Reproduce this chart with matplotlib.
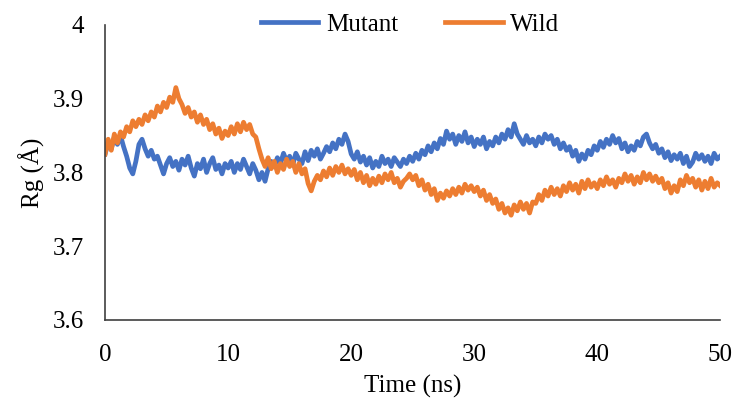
import numpy as np
import matplotlib.pyplot as plt

plt.rcParams['font.family'] = ['Liberation Serif', 'DejaVu Serif']

# --- Dados (passo de 0.25 ns) ---
tempo = np.arange(0, 50.01, 0.25)

mutant = [
    3.825, 3.840, 3.832, 3.848, 3.838, 3.850, 3.835, 3.822, 3.806, 3.798, 3.815, 3.838, 3.845, 3.832, 3.822, 3.830, 3.818, 3.822, 3.810, 3.798,
    3.812, 3.820, 3.808, 3.815, 3.803, 3.818, 3.810, 3.822, 3.806, 3.795, 3.812, 3.805, 3.818, 3.800, 3.812, 3.820, 3.804, 3.810, 3.798, 3.812,
    3.806, 3.815, 3.800, 3.812, 3.804, 3.818, 3.808, 3.798, 3.812, 3.803, 3.790, 3.800, 3.788, 3.805, 3.815, 3.808, 3.820, 3.812, 3.826, 3.815,
    3.822, 3.810, 3.826, 3.818, 3.812, 3.828, 3.816, 3.830, 3.822, 3.832, 3.818, 3.826, 3.835, 3.828, 3.840, 3.832, 3.845, 3.838, 3.852, 3.842,
    3.825, 3.818, 3.828, 3.814, 3.822, 3.810, 3.820, 3.806, 3.815, 3.808, 3.822, 3.812, 3.818, 3.808, 3.820, 3.814, 3.808, 3.818, 3.812, 3.822,
    3.815, 3.826, 3.818, 3.830, 3.824, 3.836, 3.828, 3.840, 3.832, 3.846, 3.838, 3.856, 3.845, 3.852, 3.838, 3.850, 3.842, 3.855, 3.840, 3.848,
    3.835, 3.845, 3.838, 3.848, 3.832, 3.842, 3.836, 3.848, 3.840, 3.852, 3.845, 3.858, 3.848, 3.866, 3.852, 3.845, 3.838, 3.850, 3.840, 3.845,
    3.836, 3.848, 3.840, 3.852, 3.845, 3.850, 3.838, 3.845, 3.832, 3.840, 3.830, 3.835, 3.822, 3.830, 3.815, 3.825, 3.818, 3.830, 3.824, 3.836,
    3.830, 3.842, 3.834, 3.845, 3.838, 3.850, 3.840, 3.846, 3.832, 3.840, 3.828, 3.836, 3.830, 3.842, 3.836, 3.848, 3.852, 3.840, 3.832, 3.838,
    3.826, 3.832, 3.820, 3.828, 3.816, 3.824, 3.818, 3.826, 3.812, 3.822, 3.808, 3.814, 3.826, 3.818, 3.824, 3.815, 3.822, 3.812, 3.826, 3.818,
    3.822,
]

wild = [
    3.825, 3.845, 3.830, 3.852, 3.840, 3.855, 3.848, 3.862, 3.855, 3.870, 3.862, 3.872, 3.865, 3.878, 3.870, 3.882, 3.875, 3.890, 3.882, 3.895,
    3.888, 3.902, 3.895, 3.915, 3.900, 3.892, 3.880, 3.888, 3.875, 3.882, 3.868, 3.878, 3.865, 3.872, 3.858, 3.866, 3.852, 3.860, 3.846, 3.856,
    3.850, 3.862, 3.852, 3.866, 3.855, 3.868, 3.858, 3.865, 3.852, 3.848, 3.832, 3.818, 3.808, 3.820, 3.805, 3.815, 3.800, 3.812, 3.804, 3.818,
    3.808, 3.815, 3.800, 3.812, 3.798, 3.805, 3.785, 3.775, 3.788, 3.796, 3.790, 3.802, 3.794, 3.806, 3.796, 3.808, 3.800, 3.810, 3.798, 3.805,
    3.796, 3.804, 3.790, 3.800, 3.786, 3.796, 3.782, 3.792, 3.784, 3.795, 3.786, 3.798, 3.790, 3.800, 3.786, 3.792, 3.780, 3.788, 3.792, 3.798,
    3.790, 3.796, 3.782, 3.790, 3.776, 3.784, 3.770, 3.778, 3.762, 3.772, 3.765, 3.775, 3.768, 3.778, 3.770, 3.780, 3.772, 3.784, 3.776, 3.782,
    3.774, 3.780, 3.768, 3.776, 3.762, 3.770, 3.758, 3.764, 3.750, 3.758, 3.745, 3.752, 3.742, 3.756, 3.748, 3.760, 3.750, 3.758, 3.745, 3.760,
    3.758, 3.770, 3.762, 3.776, 3.768, 3.780, 3.770, 3.778, 3.768, 3.782, 3.774, 3.786, 3.776, 3.784, 3.772, 3.788, 3.778, 3.790, 3.780, 3.786,
    3.778, 3.790, 3.782, 3.794, 3.784, 3.790, 3.780, 3.792, 3.786, 3.798, 3.788, 3.796, 3.784, 3.794, 3.786, 3.800, 3.790, 3.798, 3.788, 3.795,
    3.786, 3.792, 3.778, 3.786, 3.772, 3.782, 3.774, 3.790, 3.782, 3.796, 3.786, 3.792, 3.780, 3.790, 3.776, 3.788, 3.778, 3.792, 3.780, 3.786,
    3.782,
]

x_ticks = [0, 10, 20, 30, 40, 50]
y_ticks = [3.6, 3.7, 3.8, 3.9, 4.0]
y_labels = ['3.6', '3.7', '3.8', '3.9', '4']

# --- Figura ---
fig = plt.figure(figsize=(7.35, 4.01), dpi=100)
ax = fig.add_axes([0.143, 0.202, 0.837, 0.736])

ax.plot(tempo, mutant, color='#4472C4', lw=3.4, label='Mutant')
ax.plot(tempo, wild, color='#ED7D31', lw=3.4, label='Wild')

ax.set_xlim(0, 50)
ax.set_ylim(3.6, 4.0)
ax.set_xticks(x_ticks)
ax.set_yticks(y_ticks)
ax.set_yticklabels(y_labels)
ax.tick_params(length=0, labelsize=18)
ax.tick_params(axis='x', pad=17)
ax.tick_params(axis='y', pad=15)

for lado in ['top', 'right']:
    ax.spines[lado].set_visible(False)
for lado in ['left', 'bottom']:
    ax.spines[lado].set_color('#404040')
    ax.spines[lado].set_linewidth(1.2)

ax.set_xlabel('Time (ns)', fontsize=18, labelpad=7)
ax.set_ylabel('Rg (Å)', fontsize=18, labelpad=6)

fig.legend(loc='center', bbox_to_anchor=(0.558, 0.938), ncol=2, frameon=False,
           fontsize=18, handlelength=2.3, columnspacing=1.9, handletextpad=0.3)

fig.savefig('out.png', dpi=100)
